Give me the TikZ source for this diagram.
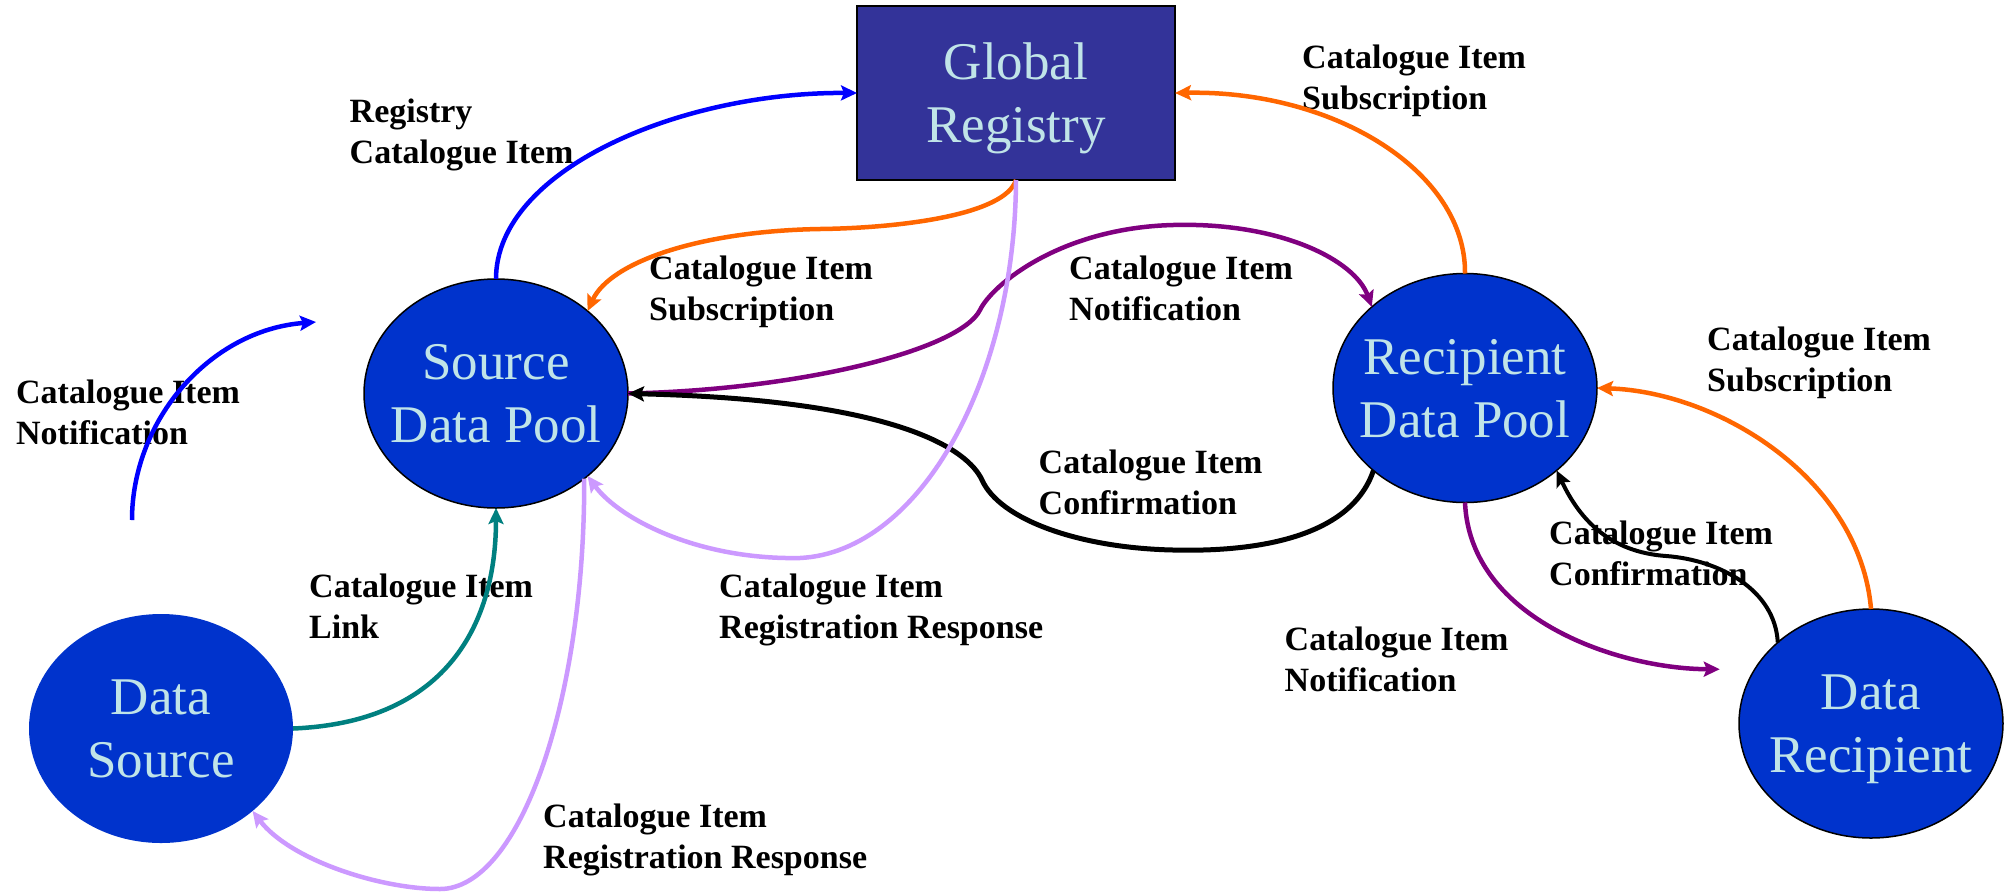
\documentclass[tikz,border=0pt]{standalone}
\usepackage{fontspec}
\setmainfont{Liberation Serif}
\usetikzlibrary{arrows.meta,shapes.geometric}
\definecolor{poolblue}{RGB}{0,51,204}
\definecolor{regblue}{RGB}{51,51,153}
\definecolor{ntext}{RGB}{192,228,232}
\definecolor{corange}{RGB}{255,102,0}
\definecolor{cpurple}{RGB}{128,0,128}
\definecolor{clav}{RGB}{204,153,255}
\definecolor{cteal}{RGB}{0,128,128}
\definecolor{cblue}{RGB}{0,0,255}
\newcommand{\twolines}[2]{\begin{tabular}[t]{@{}l@{}}#1\\#2\end{tabular}}
\begin{document}
\begin{tikzpicture}[x=1pt,y=-1pt,
  pool/.style={ellipse, fill=poolblue, minimum width=264pt, minimum height=229pt,
    inner sep=-40pt, outer sep=0pt, text=ntext, align=center,
    font=\fontsize{53}{63}\selectfont, text depth=0pt},
  rim/.style={draw=black, line width=1.5pt},
  regbox/.style={rectangle, fill=regblue, draw=black, line width=2pt,
    minimum width=318pt, minimum height=174pt, inner sep=0pt, outer sep=0pt,
    text=ntext, align=center, font=\fontsize{53}{63}\selectfont, text depth=0pt},
  lbl/.style={anchor=base west, inner sep=0pt, font=\bfseries\fontsize{34}{41}\selectfont},
  flow/.style={line width=4.5pt, -{Stealth[length=16pt,width=15pt,inset=3pt]}}
]
\useasboundingbox (0,0) rectangle (2007,892);
\fill[white] (0,0) rectangle (2007,892);

% nodes
\node[regbox] (gr) at (1016,93) {Global\\Registry};
\node[pool, rim] (sdp) at (496,393.5) {Source\\Data Pool};
\node[pool, rim] (rdp) at (1465,388) {Recipient\\Data Pool};
\node[pool] (ds) at (161,728.5) {Data\\Source};
\node[pool, rim] (dr) at (1871,723.5) {Data\\Recipient};

\coordinate (nstart) at (132,520);
\coordinate (nend) at (316,322);

% labels
\node[lbl] (l1) at (349.5,122) {\twolines{Registry}{Catalogue Item}};
\node[lbl] (l2) at (649,279) {\twolines{Catalogue Item}{Subscription}};
\node[lbl] (l3) at (16,403) {\twolines{Catalogue Item}{Notification}};
\node[lbl] (l4) at (1302,68) {\twolines{Catalogue Item}{Subscription}};
\node[lbl] (l5) at (1069,279) {\twolines{Catalogue Item}{Notification}};
\node[lbl] (l6) at (1707,350) {\twolines{Catalogue Item}{Subscription}};
\node[lbl] (l7) at (1038.5,473) {\twolines{Catalogue Item}{Confirmation}};
\node[lbl] (l8) at (1549,544) {\twolines{Catalogue Item}{Confirmation}};
\node[lbl] (l9) at (1284.5,650) {\twolines{Catalogue Item}{Notification}};
\node[lbl] (l10) at (309,597) {\twolines{Catalogue Item}{Link}};
\node[lbl] (l11) at (719,597) {\twolines{Catalogue Item}{Registration Response}};
\node[lbl] (l12) at (543,827) {\twolines{Catalogue Item}{Registration Response}};

% connectors
\draw[flow, cblue] (sdp.north) .. controls (496,170) and (680,92) .. (gr.west);
\draw[flow, corange] (gr.south) .. controls (1005,215) and (900,228) .. (820,229)
   .. controls (700,231) and (610,262) .. (sdp.42);
\draw[flow, cpurple] (sdp.east) .. controls (800,390) and (960,350) .. (980,310)
   .. controls (992,285) and (1060,228) .. (1173,225)
   .. controls (1280,222) and (1355,260) .. (rdp.139);
\draw[flow, black, line width=5pt] (rdp.222) .. controls (1350,540) and (1250,552) .. (1173,550)
   .. controls (1080,548) and (1000,520) .. (982,480)
   .. controls (968,450) and (900,400) .. (sdp.east);
\draw[flow, clav] (gr.south) .. controls (1015,380) and (920,552) .. (800,558)
   .. controls (700,560) and (620,520) .. (sdp.318);
\draw[flow, clav] (sdp.316) .. controls (585,700) and (520,889) .. (440,889)
   .. controls (380,889) and (290,860) .. (ds.318);
\draw[flow, cteal] (ds.east) .. controls (450,722) and (496,620) .. (sdp.south);
\draw[flow, cblue] (nstart) .. controls (132,420) and (210,330) .. (nend);
\draw[flow, corange] (rdp.north) .. controls (1466,172) and (1335,90) .. (gr.east);
\draw[flow, corange] (dr.north) .. controls (1860,480) and (1720,392) .. (rdp.east);
\draw[flow, cpurple, shorten >=35pt] (rdp.south) .. controls (1470,620) and (1620,669) .. (dr.155);
\draw[flow, black, line width=4pt] (dr.139) .. controls (1775,590) and (1720,560) .. (1666,556)
   .. controls (1610,552) and (1580,520) .. (rdp.318);
\end{tikzpicture}
\end{document}
